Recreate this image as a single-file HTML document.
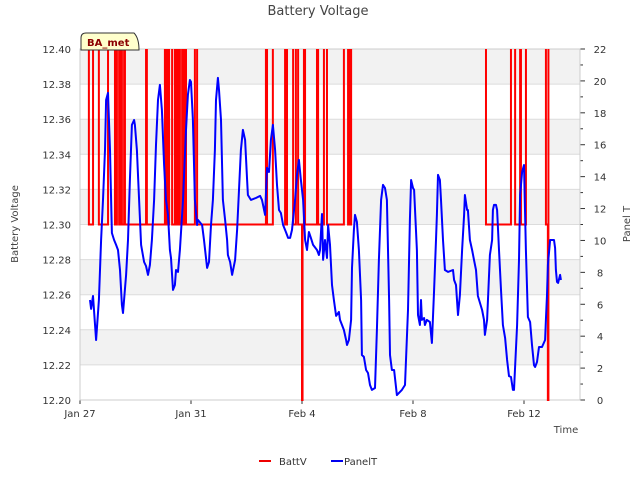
<!DOCTYPE html>
<html><head><meta charset="utf-8">
<style>
body{margin:0;background:#fff;}
svg text{font-family:"DejaVu Sans","Liberation Sans",sans-serif;}
</style></head>
<body>
<svg id="chart" width="640" height="480" xmlns="http://www.w3.org/2000/svg">
<text x="318" y="15" font-size="13" fill="#444" text-anchor="middle">Battery Voltage</text>
<g id="plot"></g>
<text x="18" y="224" font-size="10" fill="#444" text-anchor="middle" transform="rotate(-90 18 224)">Battery Voltage</text>
<text x="630" y="224" font-size="10" fill="#444" text-anchor="middle" transform="rotate(-90 630 224)">Panel T</text>
<text x="566" y="433" font-size="10" fill="#444" text-anchor="middle">Time</text>
<g>
<line x1="259" y1="461" x2="271" y2="461" stroke="#e00" stroke-width="2"/>
<text x="279" y="465" font-size="10" fill="#333">BattV</text>
<line x1="331" y1="461" x2="343" y2="461" stroke="#00e" stroke-width="2"/>
<text x="344" y="465" font-size="10" fill="#333">PanelT</text>
</g>
<g>
<path d="M81 50 L81 38 Q81 33 86 33 L134 33 Q139 38 139 50 Z" fill="#ffffcc" stroke="#333" stroke-width="1"/>
<text x="87" y="46" font-size="10" font-weight="bold" fill="#8b0000">BA_met</text>
</g>
</svg>
<script>
const xTickLabels=["Jan 27","Jan 31","Feb 4","Feb 8","Feb 12"];
const xTickDays=[0,4,8,12,16];
const leftTicks=[12.20,12.22,12.24,12.26,12.28,12.30,12.32,12.34,12.36,12.38,12.40];
const rightTicks=[0,2,4,6,8,10,12,14,16,18,20,22];
const panelTDays=[0.36,0.40,0.47,0.58,0.68,0.76,0.83,0.90,0.94,1.01,1.08,1.12,1.15,1.23,1.30,1.37,1.44,1.51,1.55,1.66,1.73,1.80,1.87,1.95,1.98,2.05,2.13,2.20,2.31,2.38,2.45,2.52,2.59,2.67,2.74,2.81,2.88,2.95,3.03,3.10,3.17,3.24,3.28,3.35,3.42,3.46,3.53,3.60,3.71,3.82,3.89,3.96,4.00,4.07,4.14,4.22,4.25,4.40,4.47,4.58,4.65,4.72,4.79,4.86,4.90,4.97,5.01,5.08,5.15,5.23,5.30,5.33,5.41,5.48,5.59,5.66,5.73,5.80,5.87,5.95,6.02,6.05,6.16,6.34,6.49,6.56,6.67,6.74,6.81,6.88,6.95,7.03,7.10,7.17,7.24,7.32,7.42,7.50,7.57,7.64,7.75,7.82,7.89,7.96,8.04,8.11,8.18,8.25,8.32,8.40,8.54,8.61,8.65,8.72,8.76,8.83,8.90,8.94,9.01,9.08,9.15,9.23,9.33,9.37,9.44,9.51,9.59,9.62,9.69,9.77,9.80,9.87,9.91,9.98,10.05,10.13,10.16,10.23,10.31,10.38,10.45,10.52,10.63,10.70,10.77,10.85,10.92,10.99,11.06,11.14,11.17,11.24,11.32,11.42,11.60,11.71,11.82,11.89,11.93,12.00,12.04,12.14,12.18,12.25,12.29,12.32,12.40,12.43,12.50,12.61,12.68,12.76,12.83,12.86,12.90,12.97,13.01,13.08,13.15,13.26,13.44,13.48,13.55,13.62,13.69,13.77,13.84,13.87,13.95,13.98,14.05,14.13,14.20,14.27,14.34,14.49,14.56,14.59,14.67,14.77,14.85,14.88,14.92,14.99,15.03,15.10,15.17,15.24,15.32,15.39,15.46,15.53,15.60,15.64,15.75,15.82,15.86,15.93,16.00,16.07,16.14,16.22,16.29,16.36,16.40,16.47,16.54,16.65,16.76,16.79,16.83,16.86,16.94,17.08,17.12,17.15,17.19,17.23,17.30,17.33];
const panelTValues=[6.27,5.71,6.52,3.76,6.27,10.03,12.54,15.67,18.81,19.25,15.67,12.54,10.47,10.03,9.72,9.40,8.15,5.96,5.45,7.84,10.03,13.79,17.24,17.55,17.24,15.67,12.54,9.72,8.65,8.40,7.84,8.46,10.03,12.54,15.99,18.81,19.75,18.18,14.73,12.54,11.60,9.40,8.90,6.90,7.21,8.15,8.03,9.40,12.54,16.93,19.12,20.06,19.94,17.55,12.54,10.97,11.29,10.97,10.03,8.28,8.65,10.97,12.54,15.67,18.81,20.19,19.44,17.55,12.54,11.29,10.03,9.09,8.65,7.84,8.78,10.66,13.17,15.67,16.93,16.30,13.79,12.85,12.54,12.66,12.79,12.54,11.60,14.55,14.29,16.30,17.24,15.67,13.48,11.91,11.72,10.97,10.53,10.16,10.16,10.66,12.54,14.11,15.05,13.79,12.54,10.03,9.40,10.53,10.16,9.72,9.40,9.09,9.40,11.66,8.78,10.03,8.90,10.97,9.72,7.21,6.27,5.27,5.52,5.02,4.70,4.39,3.76,3.45,3.76,5.02,8.28,10.66,11.60,11.16,9.40,6.27,2.82,2.70,1.88,1.69,0.94,0.63,0.75,4.39,8.78,12.54,13.48,13.29,12.54,6.27,2.82,1.88,1.88,0.31,0.63,0.94,5.64,11.29,13.79,13.29,13.17,9.40,5.33,4.70,6.27,5.02,5.14,4.70,5.02,4.89,3.57,6.90,10.03,11.60,14.11,13.79,12.54,10.03,8.15,8.03,8.15,7.52,7.21,5.33,6.58,9.40,11.60,12.85,11.91,11.91,10.03,9.40,8.78,8.15,6.52,5.64,5.02,4.08,5.02,9.09,10.03,11.91,12.23,12.23,11.91,9.40,6.90,4.70,3.89,2.51,1.50,1.44,0.63,0.63,4.70,8.78,12.85,14.29,14.73,9.40,5.20,4.89,3.45,2.19,2.07,2.38,3.32,3.32,3.76,5.02,6.58,8.46,10.03,10.03,9.53,8.15,7.40,7.34,7.84,7.52];
const battDays=[0.32,0.47,0.68,1.01,1.26,1.33,1.41,1.48,1.51,1.59,1.62,2.38,2.41,3.06,3.10,3.14,3.17,3.21,3.32,3.42,3.46,3.53,3.57,3.60,3.68,3.75,3.82,4.14,4.22,6.70,6.74,6.95,7.39,7.46,7.68,7.78,7.86,8.00,8.02,8.07,8.11,8.54,8.58,8.79,8.90,9.51,9.66,9.69,9.73,9.77,14.63,15.53,15.68,15.86,15.89,16.07,16.79,16.86,16.88,17.37];
const battValues=[12.30,12.403,12.30,12.403,12.30,12.403,12.30,12.403,12.30,12.403,12.30,12.403,12.30,12.403,12.30,12.403,12.30,12.403,12.30,12.403,12.30,12.403,12.30,12.403,12.30,12.403,12.30,12.403,12.30,12.403,12.30,12.403,12.30,12.403,12.30,12.403,12.30,12.20,12.30,12.403,12.30,12.403,12.30,12.403,12.30,12.403,12.30,12.403,12.30,12.403,12.30,12.403,12.30,12.403,12.30,12.403,12.30,12.20,12.403,12.403];

const NS="http://www.w3.org/2000/svg";
const L=80,R=580,T=49,B=400;
const xS=d=>L+d*27.75;
const yL=v=>B-(v-12.20)/0.20*(B-T);
const yR=v=>B-v/22*(B-T);
const plot=document.getElementById('plot');
function mk(tag,attrs){const e=document.createElementNS(NS,tag);for(const k in attrs)e.setAttribute(k,attrs[k]);plot.appendChild(e);return e;}

for(let i=0;i<leftTicks.length-1;i++){
  if(i%2===1){const r=mk('rect',{x:L,y:yL(leftTicks[i+1]),width:R-L,height:yL(leftTicks[i])-yL(leftTicks[i+1]),fill:'#f2f2f2'});
  
  }
}
leftTicks.forEach(v=>{
  const g=mk('line',{x1:L,x2:R,y1:yL(v),y2:yL(v),stroke:'#dcdcdc','stroke-width':1});
  
  
  const t=mk('text',{x:L-9,y:yL(v)+4,'font-size':10,fill:'#333','text-anchor':'end'});
  t.textContent=v.toFixed(2);
  
  
});
rightTicks.forEach(v=>{
  const tk=mk('line',{x1:R,x2:R+5,y1:yR(v),y2:yR(v),stroke:'#333'});
  
  
  if(v+1<22){
    const mt=mk('line',{x1:R,x2:R+3,y1:yR(v+1),y2:yR(v+1),stroke:'#333'});
    
    
  }
  const t=mk('text',{x:R+20,y:yR(v)+4,'font-size':10,fill:'#333','text-anchor':'middle'});
  t.textContent=v;
  
  
});
xTickDays.forEach((d,i)=>{
  const tk=mk('line',{x1:xS(d),x2:xS(d),y1:B,y2:B+4,stroke:'#333'});
  
  
  const t=mk('text',{x:xS(d),y:B+17,'font-size':10,fill:'#333','text-anchor':'middle'});
  t.textContent=xTickLabels[i];
  
  
});
const ax=mk('rect',{x:L,y:T,width:R-L,height:B-T,fill:'none',stroke:'#ccc'});



const clip=mk('clipPath',{id:'clip'});
const cr=document.createElementNS(NS,'rect');
cr.setAttribute('x',L);cr.setAttribute('y',T);cr.setAttribute('width',R-L);cr.setAttribute('height',B-T+1);
clip.appendChild(cr);

let d='M'+xS(battDays[0])+' '+yL(12.403);
battDays.forEach((t,i)=>{d+=' H'+xS(t)+' V'+yL(battValues[i]);});
const bl=mk('path',{d:d,fill:'none',stroke:'#f00','stroke-width':2,'clip-path':'url(#clip)'});



let p='';
panelTDays.forEach((t,i)=>{p+=(i?' L':'M')+xS(t).toFixed(1)+' '+yR(panelTValues[i]).toFixed(1);});
const pl=mk('path',{d:p,fill:'none',stroke:'#00f','stroke-width':2,'stroke-linejoin':'round'});


</script>
</body></html>
